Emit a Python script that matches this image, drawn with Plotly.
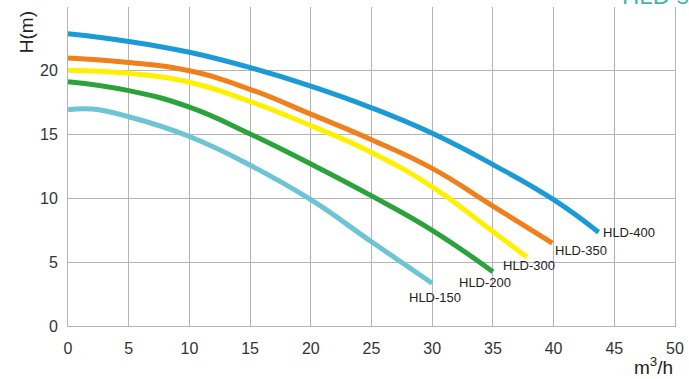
import plotly.graph_objects as go

# ---- data ----
names = ["HLD-400", "HLD-350", "HLD-300", "HLD-200", "HLD-150"]
colors = ["#1a9ad6", "#f0801c", "#fff000", "#2aa33a", "#6cc4d4"]

x_400 = [0, 5, 10, 15, 20, 25, 30, 35, 40, 43.7]
y_400 = [22.9, 22.3, 21.45, 20.25, 18.8, 17.1, 15.1, 12.65, 9.9, 7.35]

x_350 = [0, 5, 10, 15, 20, 25, 30, 35, 39.9]
y_350 = [21.0, 20.65, 20.0, 18.55, 16.6, 14.6, 12.35, 9.4, 6.5]

x_300 = [0, 5, 10, 15, 20, 25, 30, 35, 37.8]
y_300 = [20.05, 19.8, 19.1, 17.6, 15.7, 13.6, 10.9, 7.4, 5.4]

x_200 = [0, 5, 10, 15, 20, 25, 30, 35]
y_200 = [19.15, 18.45, 17.15, 15.05, 12.7, 10.2, 7.5, 4.25]

x_150 = [0, 2, 5, 10, 15, 20, 25, 30]
y_150 = [16.95, 17.0, 16.4, 14.85, 12.6, 9.9, 6.6, 3.35]

xs = [x_400, x_350, x_300, x_200, x_150]
ys = [y_400, y_350, y_300, y_200, y_150]

x_ticks = [0, 5, 10, 15, 20, 25, 30, 35, 40, 45, 50]
y_ticks = [0, 5, 10, 15, 20, 25]

# label offsets (pixels) relative to each curve's end point
label_dx = [2, 1, -26, -36, -25]
label_dy = [0, -7, -8, -11, -14]

fig = go.Figure()
for n, c, x, y in zip(names, colors, xs, ys):
    fig.add_trace(go.Scatter(x=x, y=y, mode="lines", name=n,
                             line=dict(color=c, width=5, shape="spline", smoothing=1.3),
                             showlegend=False, hoverinfo="skip"))

for n, x, y, dx, dy in zip(names, xs, ys, label_dx, label_dy):
    fig.add_annotation(x=x[-1], y=y[-1], text=n, showarrow=False,
                       xanchor="left", yanchor="middle", xshift=dx, yshift=dy,
                       font=dict(family="Liberation Sans, Arial", size=13, color="#222"))

grid = "#b4b4b4"
fig.update_xaxes(range=[0, 50], tickvals=x_ticks, showgrid=True, gridcolor=grid, gridwidth=1,
                 showline=True, linecolor=grid, linewidth=1, zeroline=False, automargin=False,
                 ticks="", ticklabelstandoff=8,
                 tickfont=dict(family="Liberation Sans, Arial", size=16, color="#333"))
fig.update_yaxes(range=[0, 25], tickvals=y_ticks, showgrid=True, gridcolor=grid, gridwidth=1,
                 showline=True, linecolor=grid, linewidth=1, mirror=True, zeroline=False,
                 automargin=False, ticks="", ticklabelstandoff=6,
                 tickfont=dict(family="Liberation Sans, Arial", size=16, color="#333"))

fig.add_annotation(xref="paper", yref="paper", x=-0.068, y=0.92, text="H(m)", textangle=-90,
                   showarrow=False, xanchor="center", yanchor="middle",
                   font=dict(family="Liberation Sans, Arial", size=19, color="#222"))
fig.add_annotation(xref="paper", yref="paper", x=1.0, y=0, yshift=-26, text="m<sup>3</sup>/h",
                   showarrow=False, xanchor="right", yanchor="top",
                   font=dict(family="Liberation Sans, Arial", size=19, color="#222"))
fig.add_annotation(xref="paper", yref="paper", x=0.91, y=1, yshift=-4, text="HLD series",
                   showarrow=False, xanchor="left", yanchor="bottom",
                   font=dict(family="Liberation Sans, Arial", size=24, color="#3fb8a6"))

fig.update_layout(width=689, height=379, margin=dict(l=68, r=14, t=7, b=53, autoexpand=False),
                  plot_bgcolor="white", paper_bgcolor="white")

fig.write_html("out.html", config={"displayModeBar": False},
               post_script="document.body.style.margin='0px';document.body.style.overflow='hidden';")
